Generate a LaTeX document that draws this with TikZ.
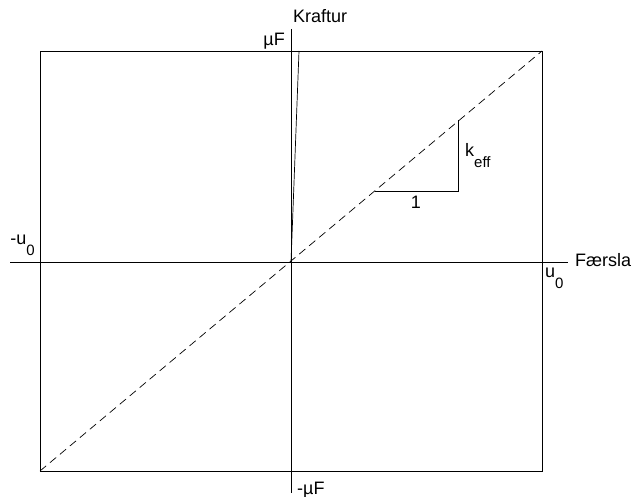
\documentclass[tikz,border=0pt]{standalone}
\usepackage{fontspec}
\setmainfont{Liberation Sans}
\newcommand\lbl[2]{#1\raisebox{-11pt}{\fontsize{15}{15}\selectfont #2}}
\begin{document}
\begin{tikzpicture}[x=1pt,y=-1pt,
  ln/.style={line width=0.7pt,black},
  dsh/.style={line width=0.7pt,black,dash pattern=on 8pt off 5pt},
  txt/.style={inner sep=0pt,font=\fontsize{18}{21}\selectfont}]
\useasboundingbox (0,0) rectangle (638,497);
% coordinates
\coordinate (bl) at (40,471);
\coordinate (tr) at (542,51);
\coordinate (o) at (291,262);
\coordinate (xl) at (10,262);
\coordinate (xr) at (568,262);
\coordinate (yt) at (291,29);
\coordinate (yb) at (291,493);
\coordinate (st) at (299,51);
\coordinate (ta) at (375,191);
\coordinate (tb) at (458,191);
\coordinate (tc) at (458,120);
\coordinate (lm) at (40,262);
% box
\draw[ln] (bl) rectangle (tr);
% axes
\draw[ln] (xl) -- (xr);
\draw[ln] (yt) -- (yb);
% lines
\draw[dsh] (bl) -- (tr);
\draw[dsh] (lm) -- (bl);
\draw[ln] (o) -- (st);
\draw[ln] (ta) -- (tb) -- (tc);
% labels
\node[txt,anchor=base west] (kr) at (293,23) {Kraftur};
\node[txt,anchor=base east] (mf) at (285,46) {µF};
\node[txt,anchor=base west] (mmf) at (297,494) {-µF};
\node[txt,anchor=base west] (fa) at (575,267) {Færsla};
\node[txt,anchor=base east] (mu) at (35,245) {\lbl{-u}{0}};
\node[txt,anchor=base west] (pu) at (545,278) {\lbl{u}{0}};
\node[txt,anchor=base west] (ke) at (465,157) {\lbl{k}{eff}};
\node[txt,anchor=base] (one) at (416,209) {1};
\end{tikzpicture}
\end{document}
